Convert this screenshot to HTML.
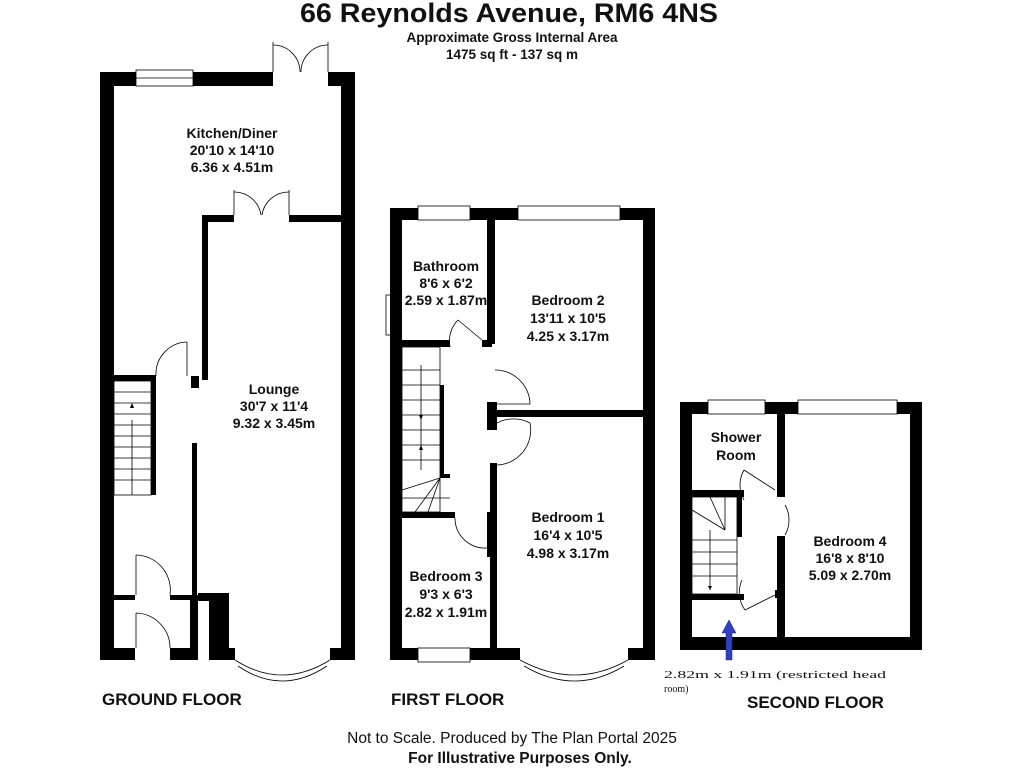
<!DOCTYPE html>
<html><head><meta charset="utf-8"><style>
html,body{margin:0;padding:0;background:#fff}
svg{display:block}
text{font-family:"Liberation Sans",Arial,sans-serif;font-weight:bold;fill:#111}
</style></head><body>
<svg width="1024" height="768" viewBox="0 0 1024 768" xmlns="http://www.w3.org/2000/svg">
<text x="509" y="22" font-size="27" text-anchor="middle" textLength="418" lengthAdjust="spacingAndGlyphs">66 Reynolds Avenue, RM6 4NS</text>
<text x="512" y="42" font-size="13.5" text-anchor="middle">Approximate Gross Internal Area</text>
<text x="512" y="59" font-size="13.5" text-anchor="middle">1475 sq ft - 137 sq m</text>

<g fill="#000">
<!-- GROUND FLOOR -->
<rect x="100" y="72" width="14" height="588"/>
<rect x="341" y="72" width="14" height="588"/>
<rect x="100" y="72" width="36" height="14"/>
<rect x="193" y="72" width="80" height="14"/>
<rect x="328" y="72" width="27" height="14"/>
<rect x="202" y="215" width="32" height="7"/>
<rect x="289" y="215" width="60" height="7"/>
<rect x="202" y="215" width="6" height="165"/>
<rect x="191" y="376" width="8" height="12"/>
<rect x="100" y="375" width="55" height="6"/>
<rect x="151" y="375" width="5" height="120"/>
<rect x="192" y="443" width="5" height="157"/>
<rect x="100" y="595" width="35" height="5"/>
<rect x="170" y="595" width="27" height="5"/>
<rect x="100" y="648" width="35" height="12"/>
<rect x="170" y="648" width="20" height="12"/>
<rect x="190" y="595" width="8" height="65"/>
<rect x="198" y="593" width="30" height="8"/>
<rect x="209" y="593" width="20" height="67"/>
<rect x="209" y="648" width="26" height="12"/>
<rect x="330" y="648" width="25" height="12"/>

<!-- FIRST FLOOR -->
<rect x="390" y="208" width="12" height="452"/>
<rect x="643" y="208" width="12" height="452"/>
<rect x="390" y="208" width="28" height="12"/>
<rect x="470" y="208" width="48" height="12"/>
<rect x="620" y="208" width="35" height="12"/>
<rect x="487" y="220" width="8" height="124"/>
<rect x="487" y="402" width="10" height="28"/>
<rect x="490" y="410" width="155" height="7"/>
<rect x="490" y="463" width="7" height="197"/>
<rect x="402" y="340" width="48" height="7"/>
<rect x="482" y="340" width="10" height="7"/>
<rect x="440" y="385" width="4" height="92"/>
<rect x="440" y="474" width="10" height="4"/>
<rect x="402" y="512" width="53" height="6"/>
<rect x="487" y="512" width="3" height="45"/>
<rect x="390" y="648" width="28" height="12"/>
<rect x="470" y="648" width="50" height="12"/>
<rect x="628" y="648" width="27" height="12"/>

<!-- SECOND FLOOR -->
<rect x="680" y="402" width="12" height="248"/>
<rect x="910" y="402" width="12" height="248"/>
<rect x="680" y="402" width="28" height="12"/>
<rect x="765" y="402" width="33" height="12"/>
<rect x="897" y="402" width="25" height="12"/>
<rect x="777" y="414" width="8" height="83"/>
<rect x="777" y="536" width="8" height="114"/>
<rect x="680" y="637" width="242" height="13"/>
<rect x="692" y="490" width="52" height="7"/>
<rect x="737" y="497" width="5" height="40"/>
<rect x="692" y="594" width="52" height="6"/>
<rect x="775" y="590" width="10" height="8"/>
</g>

<g fill="none" stroke="#000" stroke-width="0.8">
<rect x="136" y="70" width="57" height="16"/><line x1="136" y1="78" x2="193" y2="78"/>
<rect x="418" y="206" width="52" height="14"/>
<rect x="518" y="206" width="102" height="14"/>
<rect x="386" y="295" width="6" height="40"/>
<rect x="418" y="648" width="52" height="14"/>
<rect x="708" y="400" width="57" height="14"/>
<rect x="798" y="400" width="99" height="14"/>
<line x1="273" y1="42" x2="273" y2="72"/><line x1="328" y1="42" x2="328" y2="72"/>
<path d="M273 45 A27 27 0 0 1 300 72 M328 45 A27 27 0 0 0 301 72"/>
<line x1="234" y1="190" x2="234" y2="215"/><line x1="289" y1="190" x2="289" y2="215"/>
<path d="M234 192 A27 27 0 0 1 261 215 M289 192 A27 27 0 0 0 262 215"/>
<line x1="187" y1="342" x2="187" y2="376"/><path d="M187 342 A32 32 0 0 0 156 376"/>
<line x1="136" y1="555" x2="136" y2="595"/><path d="M136 555 A35 35 0 0 1 170 595"/>
<line x1="136" y1="613" x2="136" y2="648"/><path d="M136 613 A35 35 0 0 1 170 648"/>
<path d="M235 660 Q282 690 330 660 M238 666 Q282 696 327 666"/>
<path d="M458 320 A30 30 0 0 0 450 347 M458 320 L482 340" />
<path d="M495 370 A35 35 0 0 1 530 404 L497 404"/>
<path d="M497 423 A35 35 0 0 1 530 423 A35 35 0 0 1 497 465"/>
<path d="M455 518 A30 30 0 0 0 487 548"/>
<path d="M520 660 Q575 690 628 660 M524 666 Q575 696 624 666"/>
<path d="M744 470 L775 490 M744 470 A30 30 0 0 0 744 500"/>
<path d="M785 505 A30 30 0 0 1 785 535"/>
<path d="M745 610 L775 595 M745 610 A30 30 0 0 1 742 580"/>
<rect x="114" y="381" width="37" height="114"/>
<path d="M114 392 H151 M114 403 H151 M114 414 H151 M114 425 H151 M114 436 H151 M114 447 H151 M114 458 H151 M114 469 H151 M114 480 H151 M132 420 V495"/>
<rect x="402" y="347" width="38" height="165"/>
<path d="M402 370 H440 M402 385 H440 M402 400 H440 M402 415 H440 M402 430 H440 M402 445 H440 M402 460 H440 M421 365 V470 M402 490 L440 478 M415 512 L440 478 M428 512 L440 478 M402 498 H450"/>
<rect x="692" y="497" width="45" height="97"/>
<path d="M692 540 H737 M692 552 H737 M692 564 H737 M692 576 H737 M692 510 L725 530 M710 497 L725 530 M725 497 V530 M710 530 V590"/>
</g>
<path d="M132 403 l-2 5 h4z M421 420 l-2 -5 h4z M421 445 l-2 5 h4z M710 590 l-2 -4 h4z" fill="#000"/>
<path d="M726 660 V633 H722 L729 620 L736 633 H732 V660 Z" fill="#3040c0" stroke="#102080" stroke-width="0.5"/>

<g font-size="14" text-anchor="middle">
<text x="232" y="138">Kitchen/Diner</text><text x="232" y="155">20'10 x 14'10</text><text x="232" y="172">6.36 x 4.51m</text>
<text x="274" y="394">Lounge</text><text x="274" y="411">30'7 x 11'4</text><text x="274" y="428">9.32 x 3.45m</text>
<text x="446" y="271">Bathroom</text><text x="446" y="288">8'6 x 6'2</text><text x="446" y="305">2.59 x 1.87m</text>
<text x="568" y="305">Bedroom 2</text><text x="568" y="323">13'11 x 10'5</text><text x="568" y="341">4.25 x 3.17m</text>
<text x="568" y="522">Bedroom 1</text><text x="568" y="540">16'4 x 10'5</text><text x="568" y="558">4.98 x 3.17m</text>
<text x="446" y="581">Bedroom 3</text><text x="446" y="599">9'3 x 6'3</text><text x="446" y="617">2.82 x 1.91m</text>
<text x="736" y="442">Shower</text><text x="736" y="460">Room</text>
<text x="850" y="546">Bedroom 4</text><text x="850" y="563">16'8 x 8'10</text><text x="850" y="580">5.09 x 2.70m</text>
</g>
<text x="664" y="678" font-size="10" textLength="222" lengthAdjust="spacingAndGlyphs" style="font-family:'Liberation Serif',serif;font-weight:normal">2.82m x 1.91m (restricted head</text>
<text x="664" y="692" font-size="10" style="font-family:'Liberation Serif',serif;font-weight:normal">room)</text>
<g font-size="17">
<text x="102" y="705">GROUND FLOOR</text>
<text x="391" y="705">FIRST FLOOR</text>
<text x="747" y="708">SECOND FLOOR</text>
</g>
<text x="512" y="743" font-size="15.5" text-anchor="middle" style="font-weight:normal">Not to Scale. Produced by The Plan Portal 2025</text>
<text x="520" y="763" font-size="15.5" text-anchor="middle">For Illustrative Purposes Only.</text>
</svg>
</body></html>
